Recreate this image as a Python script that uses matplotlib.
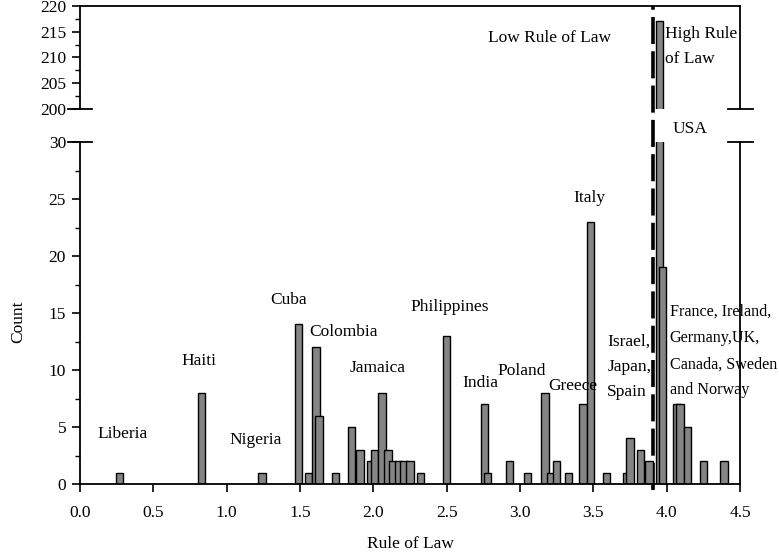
import numpy as np
import matplotlib
matplotlib.use("Agg")
import matplotlib.pyplot as plt
from matplotlib.ticker import MultipleLocator
from matplotlib.transforms import blended_transform_factory

plt.rcParams['font.family'] = ['Liberation Serif', 'DejaVu Serif']
plt.rcParams['font.size'] = 12.5

# rule of law score (bar position) and number of observations
rule = [0.27, 0.83, 1.24, 1.49, 1.56, 1.61, 1.63, 1.74, 1.85, 1.91,
        1.98, 2.01, 2.06, 2.10, 2.13, 2.17, 2.21, 2.25, 2.32, 2.50,
        2.76, 2.78, 2.93, 3.05, 3.17, 3.21, 3.25, 3.33, 3.43, 3.48,
        3.59, 3.73, 3.75, 3.82, 3.88, 3.95, 3.97, 4.07, 4.09, 4.14,
        4.25, 4.39]
count = [1, 8, 1, 14, 1, 12, 6, 1, 5, 3,
         2, 3, 8, 3, 2, 2, 2, 2, 1, 13,
         7, 1, 2, 1, 8, 1, 2, 1, 7, 23,
         1, 1, 4, 3, 2, 217, 19, 7, 7, 5,
         2, 2]
threshold = 3.91

labels = ["Liberia", "Haiti", "Nigeria", "Cuba", "Colombia", "Jamaica",
          "Philippines", "India", "Poland", "Greece", "Italy"]
label_x = [0.29, 0.81, 1.20, 1.42, 1.80, 2.03, 2.52, 2.73, 3.01, 3.36, 3.47]
label_y = [4.4, 10.8, 3.9, 16.1, 13.3, 10.2, 15.5, 8.9, 9.9, 8.6, 25.1]

fig = plt.figure(figsize=(7.79, 5.53), dpi=100)
W, H = 779, 553
ax_hi = fig.add_axes([80 / W, 1 - 109 / H, 660 / W, 103 / H])
ax_lo = fig.add_axes([80 / W, 1 - 484 / H, 660 / W, 342 / H])

for ax in (ax_hi, ax_lo):
    ax.bar(rule, count, width=0.05, color='#858585', edgecolor='black',
           linewidth=1.0, zorder=2)
    ax.set_xlim(0, 4.5)
    for s in ax.spines.values():
        s.set_linewidth(1.3)
    ax.yaxis.set_major_locator(MultipleLocator(5))
    ax.yaxis.set_minor_locator(MultipleLocator(2.5))
    ax.tick_params(axis='y', which='major', direction='out', length=6, width=1.2, pad=4)
    ax.tick_params(axis='y', which='minor', direction='out', length=3.5, width=1.0)

ax_hi.set_ylim(200, 220)
ax_hi.spines['bottom'].set_visible(False)
ax_hi.tick_params(axis='x', which='both', bottom=False, labelbottom=False)

ax_lo.set_ylim(0, 30)
ax_lo.spines['top'].set_visible(False)
ax_lo.xaxis.set_major_locator(MultipleLocator(0.5))
ax_lo.xaxis.set_major_formatter(plt.FormatStrFormatter('%.1f'))
ax_lo.tick_params(axis='x', direction='out', length=6, width=1.2, pad=9)
ax_lo.set_xlabel("Rule of Law", labelpad=11)
fig.text(18 / W, 1 - 322 / H, "Count", rotation=90, ha='center', va='center')

# break caps
for ax, yy in ((ax_hi, 0), (ax_lo, 1)):
    ax.plot([-0.018, 0.018], [yy, yy], transform=ax.transAxes, color='black',
            lw=1.3, clip_on=False)
    ax.plot([0.982, 1.019], [yy, yy], transform=ax.transAxes, color='black',
            lw=1.3, clip_on=False)

# threshold line across both panels
tr = blended_transform_factory(ax_lo.transData, fig.transFigure)
ax_lo.plot([threshold, threshold], [1 - 490 / H, 1 - 6 / H], transform=tr,
           color='black', lw=2.6, linestyle=(0, (7.5, 2.0)), clip_on=False, zorder=1)

for t, x, y in zip(labels, label_x, label_y):
    ax_lo.text(x, y, t, ha='center', va='center')

ax_lo.text(3.595, 10.3, "Israel,\nJapan,\nSpain", ha='left', va='center',
           linespacing=1.75)
ax_lo.text(4.02, 11.65, "France, Ireland,\nGermany,UK,\nCanada, Sweden\nand Norway",
           ha='left', va='center', linespacing=1.85, fontsize=11.6)
ax_lo.text(4.16, 31.1, "USA", ha='center', va='center', clip_on=False)

ax_hi.text(3.2, 213.8, "Low Rule of Law", ha='center', va='center')
ax_hi.text(3.99, 212.2, "High Rule\nof Law", ha='left', va='center', linespacing=1.75)

fig.savefig("out.png", dpi=100)
